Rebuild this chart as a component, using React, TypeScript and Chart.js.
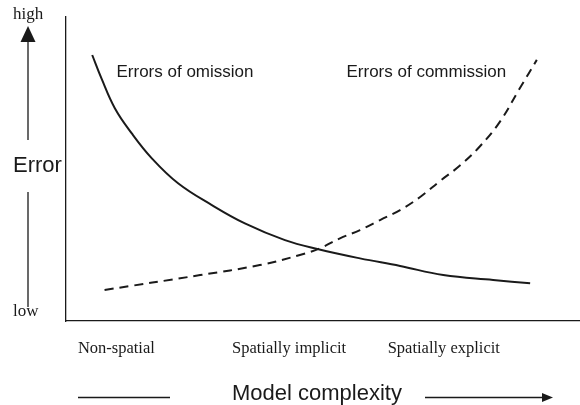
import React, { useEffect, useRef } from "react";
import { Chart, registerables } from "chart.js";

Chart.register(...registerables);

// Model complexity (0-100) positions of the category labels
const tickValues = [9.8, 43.4, 73.5];
const tickLabels = ["Non-spatial", "Spatially implicit", "Spatially explicit"];

// Errors of omission (solid curve)
const omissionX = [5.1, 6.9, 9.5, 12.8, 16.7, 21.8, 28.3, 34.8, 42.6, 49.1, 57.2, 65.0, 73.4, 83.1, 90.3];
const omissionY = [87.5, 79.8, 70.0, 61.7, 53.5, 45.3, 38.2, 32.1, 26.6, 23.6, 20.6, 18.1, 15.1, 13.5, 12.4];

// Errors of commission (dashed curve)
const commissionX = [7.5, 26.1, 37.7, 45.5, 49.4, 53.3, 57.2, 61.1, 65.0, 68.9, 72.8, 76.7, 80.5, 84.4, 88.2, 91.6];
const commissionY = [10.2, 15.1, 18.4, 21.7, 23.9, 27.2, 29.9, 33.2, 36.5, 40.8, 46.1, 51.2, 57.4, 65.5, 76.3, 85.9];

const seriesNames = ["Errors of omission", "Errors of commission"];
const yAxisWords = ["high", "Error", "low"];
const xAxisTitle = "Model complexity";

const INK = "#1a1a1a";
const SANS = '"Liberation Sans", Arial, sans-serif';
const SERIF = '"Liberation Serif", "Times New Roman", serif';

const annotationPlugin = {
  id: "annotations",
  afterDraw(chart: any) {
    const ctx = chart.ctx as CanvasRenderingContext2D;
    ctx.save();
    ctx.fillStyle = INK;
    ctx.strokeStyle = INK;
    ctx.lineWidth = 1.3;
    ctx.textAlign = "left";
    ctx.textBaseline = "alphabetic";

    // left "high / Error / low" indicator
    ctx.font = `17px ${SERIF}`;
    ctx.fillText(yAxisWords[0], 13, 18.5);
    ctx.fillText(yAxisWords[2], 13, 316);
    ctx.font = `22px ${SANS}`;
    ctx.fillText(yAxisWords[1], 13, 171.5);

    ctx.beginPath();
    ctx.moveTo(28, 26);
    ctx.lineTo(20.5, 42);
    ctx.lineTo(35.5, 42);
    ctx.closePath();
    ctx.fill();

    ctx.beginPath();
    ctx.moveTo(28, 42);
    ctx.lineTo(28, 140);
    ctx.moveTo(28, 192);
    ctx.lineTo(28, 307);
    ctx.stroke();

    // curve labels
    ctx.font = `17px ${SANS}`;
    ctx.fillText(seriesNames[0], 116.5, 76.5);
    ctx.fillText(seriesNames[1], 346.5, 76.5);

    // x axis title with lines and arrow
    ctx.font = `22px ${SANS}`;
    ctx.fillText(xAxisTitle, 232, 400);

    ctx.beginPath();
    ctx.moveTo(78, 397.5);
    ctx.lineTo(170, 397.5);
    ctx.moveTo(425, 397.5);
    ctx.lineTo(545, 397.5);
    ctx.stroke();

    ctx.beginPath();
    ctx.moveTo(553, 397.5);
    ctx.lineTo(542, 393);
    ctx.lineTo(542, 402);
    ctx.closePath();
    ctx.fill();

    ctx.restore();
  },
};

export default function App() {
  const canvasRef = useRef<HTMLCanvasElement | null>(null);

  useEffect(() => {
    const canvas = canvasRef.current;
    if (!canvas) return;
    const chart = new Chart(canvas, {
      type: "line",
      data: {
        datasets: [
          {
            label: seriesNames[0],
            data: omissionX.map((x, i) => ({ x, y: omissionY[i] })),
            borderColor: INK,
            borderWidth: 2,
            pointRadius: 0,
            tension: 0.4,
            fill: false,
          },
          {
            label: seriesNames[1],
            data: commissionX.map((x, i) => ({ x, y: commissionY[i] })),
            borderColor: INK,
            borderWidth: 2,
            borderDash: [9, 6],
            pointRadius: 0,
            tension: 0.4,
            fill: false,
          },
        ],
      },
      options: {
        responsive: false,
        animation: false,
        layout: { padding: { top: 17, right: 0, left: 0, bottom: 0 } },
        plugins: {
          legend: { display: false },
          tooltip: { enabled: false },
          title: { display: false },
        },
        scales: {
          x: {
            type: "linear",
            min: 0,
            max: 100,
            grid: { display: false, drawTicks: false },
            border: { display: true, color: INK, width: 1.3 },
            afterBuildTicks: (scale: any) => {
              scale.ticks = tickValues.map((v) => ({ value: v }));
            },
            afterFit: (scale: any) => {
              scale.height = 84;
            },
            ticks: {
              autoSkip: false,
              maxRotation: 0,
              padding: 18,
              color: INK,
              font: { family: SERIF, size: 16.5 },
              callback: (value: any) => {
                const i = tickValues.indexOf(Number(value));
                return i >= 0 ? tickLabels[i] : "";
              },
            },
          },
          y: {
            type: "linear",
            min: 0,
            max: 100,
            grid: { display: false, drawTicks: false },
            border: { display: true, color: INK, width: 1.3 },
            ticks: { display: false },
            afterFit: (scale: any) => {
              scale.width = 66;
            },
          },
        },
      },
      plugins: [annotationPlugin],
    });
    return () => chart.destroy();
  }, []);

  return (
    <div style={{ position: "absolute", left: 0, top: 0, width: 580, height: 405, background: "#fff" }}>
      <canvas ref={canvasRef} width={580} height={405} style={{ display: "block" }} />
    </div>
  );
}
